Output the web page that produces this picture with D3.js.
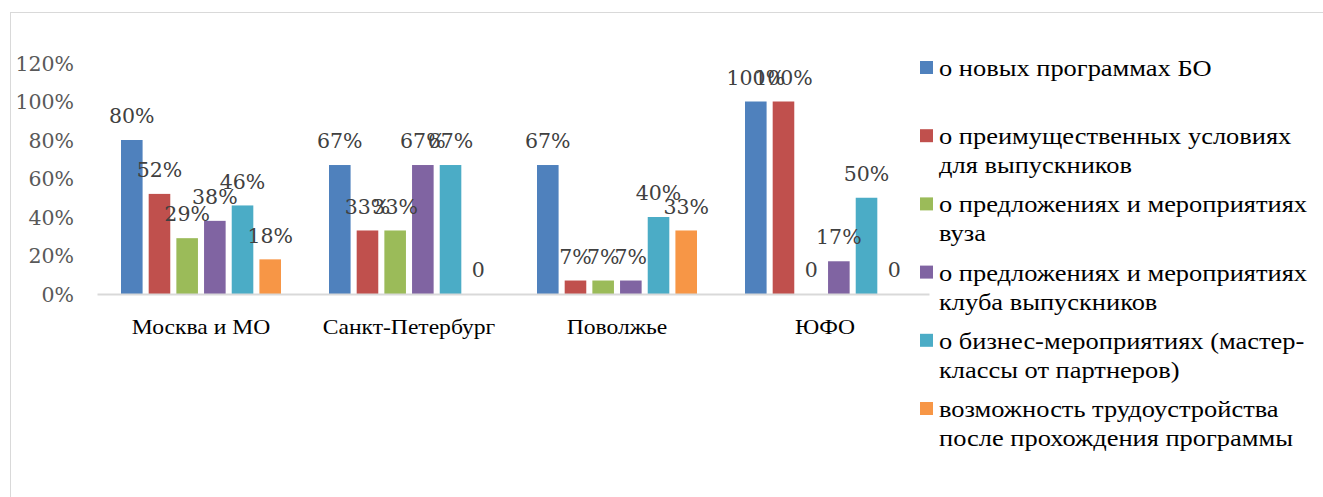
<!DOCTYPE html>
<html>
<head>
<meta charset="utf-8">
<script src="https://cdn.jsdelivr.net/npm/d3@7"></script>
<style>
  html, body { margin: 0; padding: 0; background: #fff; }
  svg { display: block; }
</style>
</head>
<body>
<svg id="chart" width="1323" height="497"></svg>
<script>
// Regions shown along the x axis
const regions = ["Москва и МО", "Санкт-Петербург", "Поволжье", "ЮФО"];

// One series per information type, values in percent per region
const seriesNames = [
  "о новых программах БО",
  "о преимущественных условиях для выпускников",
  "о предложениях и мероприятиях вуза",
  "о предложениях и мероприятиях клуба выпускников",
  "о бизнес-мероприятиях (мастер-классы от партнеров)",
  "возможность трудоустройства после прохождения программы"
];
const newPrograms    = [80, 67, 67, 100];
const alumniTerms    = [52, 33, 7, 100];
const univEvents     = [29, 33, 7, 0];
const clubEvents     = [38, 67, 7, 17];
const businessEvents = [46, 67, 40, 50];
const employment     = [18, 0, 33, 0];
const seriesValues = [newPrograms, alumniTerms, univEvents, clubEvents, businessEvents, employment];

// Legend entries split into lines
const legendLines = [
  ["о новых программах БО"],
  ["о преимущественных условиях", "для выпускников"],
  ["о предложениях и мероприятиях", "вуза"],
  ["о предложениях и мероприятиях", "клуба выпускников"],
  ["о бизнес-мероприятиях (мастер-", "классы от партнеров)"],
  ["возможность трудоустройства", "после прохождения программы"]
];

const yTicks = [0, 20, 40, 60, 80, 100, 120];
const colors = ["#4F81BD", "#C0504D", "#9BBB59", "#8064A2", "#4BACC6", "#F79646"];

const svg = d3.select("#chart");

// Chart frame
svg.append("rect")
  .attr("x", 10.5).attr("y", 12.5)
  .attr("width", 1400).attr("height", 600)
  .attr("fill", "none").attr("stroke", "#D9D9D9").attr("stroke-width", 1);

const plot = { left: 97, right: 929, top: 63, bottom: 294 };

const x0 = d3.scaleBand().domain(regions).range([plot.left, plot.right]).paddingInner(0).paddingOuter(0);
const groupWidth = 160;
const x1 = d3.scaleBand().domain(d3.range(seriesNames.length))
  .range([0, groupWidth]).paddingInner(0.22).paddingOuter(0);
const y = d3.scaleLinear().domain([0, 120]).range([plot.bottom, plot.top]);

const groupOffset = (x0.bandwidth() - groupWidth) / 2;

// Y axis labels (no axis line, no ticks)
const yAxis = svg.append("g")
  .attr("transform", `translate(74,0)`)
  .call(d3.axisLeft(y).tickValues(yTicks).tickSize(0).tickPadding(0).tickFormat(d => d + "%"));
yAxis.select(".domain").remove();
yAxis.selectAll("text")
  .attr("font-family", "DejaVu Serif")
  .attr("font-size", 20.5)
  .attr("fill", "#595959")
  .attr("dy", "0.35em");

// Bars
const groups = svg.append("g").selectAll("g")
  .data(regions)
  .join("g")
  .attr("transform", d => `translate(${x0(d) + groupOffset},0)`);

groups.selectAll("rect")
  .data((d, i) => seriesValues.map((vals, s) => ({ s, v: vals[i] })))
  .join("rect")
  .attr("x", d => x1(d.s))
  .attr("width", x1.bandwidth())
  .attr("y", d => y(d.v))
  .attr("height", d => y(0) - y(d.v))
  .attr("fill", d => colors[d.s]);

// X axis baseline
svg.append("g")
  .attr("transform", `translate(0,${plot.bottom})`)
  .call(d3.axisBottom(x0).tickSize(0).tickPadding(0).tickFormat(() => ""))
  .call(g => g.select(".domain").attr("stroke", "#D9D9D9").attr("stroke-width", 2));

// Value labels
groups.selectAll("text.val")
  .data((d, i) => seriesValues.map((vals, s) => ({ s, v: vals[i] })))
  .join("text")
  .attr("class", "val")
  .attr("x", d => x1(d.s) + x1.bandwidth() / 2)
  .attr("y", d => y(d.v) - 24)
  .attr("dy", "0.35em")
  .attr("text-anchor", "middle")
  .attr("font-family", "DejaVu Serif")
  .attr("font-size", 20.5)
  .attr("fill", "#404040")
  .text(d => d.v === 0 ? "0" : d.v + "%");

// Category labels (slightly widened serif)
svg.append("g").selectAll("text")
  .data(regions)
  .join("text")
  .attr("transform", d => `translate(${x0(d) + x0.bandwidth() / 2},327) scale(1.18,1)`)
  .attr("dy", "0.35em")
  .attr("text-anchor", "middle")
  .attr("font-family", "Liberation Serif")
  .attr("font-size", 20)
  .attr("fill", "#000")
  .text(d => d);

// Legend
const legend = svg.append("g");
const legendTop = 68, itemStep = 68.2, lineStep = 29;
legendLines.forEach((lines, i) => {
  const yc = legendTop + i * itemStep;
  legend.append("rect")
    .attr("x", 920).attr("y", yc - 7)
    .attr("width", 13).attr("height", 13)
    .attr("fill", colors[i]);
  lines.forEach((ln, j) => {
    legend.append("text")
      .attr("transform", `translate(939,${yc + j * lineStep}) scale(1.15,1)`)
      .attr("dy", "0.35em")
      .attr("font-family", "Liberation Serif")
      .attr("font-size", 23)
      .attr("fill", "#000")
      .text(ln);
  });
});
</script>
</body>
</html>
